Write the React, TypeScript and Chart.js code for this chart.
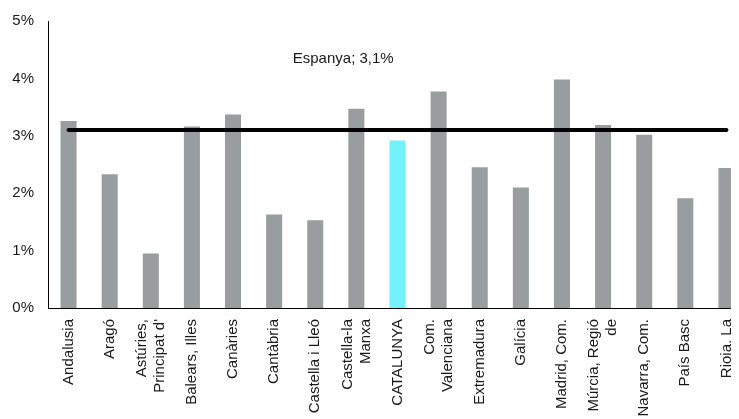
import React, { useEffect, useRef } from "react";
import { Chart, registerables } from "chart.js";

Chart.register(...registerables);

const categories: (string | string[])[] = [
  "Andalusia",
  "Aragó",
  ["Astúries,", "Principat d'"],
  "Balears, Illes",
  "Canàries",
  "Cantàbria",
  "Castella i Lleó",
  ["Castella-la", "Manxa"],
  "CATALUNYA",
  ["Com.", "Valenciana"],
  "Extremadura",
  "Galícia",
  "Madrid, Com.",
  ["Múrcia, Regió", "de"],
  "Navarra, Com.",
  "País Basc",
  "Rioja, La",
];

const regionValues = [
  3.26, 2.33, 0.95, 3.16, 3.37, 1.63, 1.53, 3.47, 2.92, 3.77, 2.45, 2.1, 3.98,
  3.19, 3.02, 1.91, 2.44,
];

const spainValue = 3.1;
const spainLabel = "Espanya; 3,1%";
const yTicks = [0, 1, 2, 3, 4, 5];

const GRAY = "#9a9d9d";
const CYAN = "#72f2fd";
const FONT = "'Liberation Sans', Arial, sans-serif";

const labelPlugin = {
  id: "spainLabel",
  afterDatasetsDraw(chart: any) {
    const { ctx, scales } = chart;
    const x = scales.x.getPixelForValue(6.68);
    const y = scales.y.getPixelForValue(4.34);
    ctx.save();
    ctx.font = `15px ${FONT}`;
    ctx.fillStyle = "#1a1a1a";
    ctx.textAlign = "center";
    ctx.textBaseline = "middle";
    ctx.fillText(spainLabel, x, y);
    ctx.restore();
  },
};

// center multi-line rotated category labels around their tick
const centerLinesPlugin = {
  id: "centerLines",
  beforeDraw(chart: any) {
    const xs = chart.scales.x;
    if (!xs || !xs.getLabelItems) return;
    const items = xs.getLabelItems();
    items.forEach((it: any) => {
      const n = Array.isArray(it.label) ? it.label.length : 1;
      if (n > 1 && !it._centered && it.options && it.options.translation) {
        const lh = it.font && it.font.lineHeight ? it.font.lineHeight : 18;
        it.options.translation[0] -= ((n - 1) * lh) / 2;
        it._centered = true;
      }
    });
  },
};

export default function App() {
  const ref = useRef<HTMLCanvasElement | null>(null);

  useEffect(() => {
    if (!ref.current) return;
    const chart = new Chart(ref.current, {
      type: "bar",
      data: {
        labels: categories,
        datasets: [
          {
            type: "line",
            data: categories.map(() => spainValue),
            borderColor: "#000",
            borderWidth: 4,
            borderCapStyle: "round",
            pointRadius: 0,
            fill: false,
            order: 0,
          } as any,
          {
            type: "bar",
            data: regionValues,
            backgroundColor: categories.map((c) =>
              c === "CATALUNYA" ? CYAN : GRAY
            ),
            barPercentage: 0.39,
            categoryPercentage: 1,
            order: 1,
          },
        ],
      },
      options: {
        animation: false,
        responsive: false,
        maintainAspectRatio: false,
        layout: { padding: 0 },
        plugins: {
          legend: { display: false },
          tooltip: { enabled: false },
        },
        scales: {
          x: {
            grid: { display: false, drawTicks: false },
            border: { display: true, color: "#000", width: 1 },
            ticks: {
              autoSkip: false,
              maxRotation: 90,
              minRotation: 90,
              padding: 11,
              color: "#1a1a1a",
              font: { family: FONT, size: 15 },
            },
            afterFit: (scale: any) => {
              scale.height = 111;
              scale.paddingLeft = 0;
              scale.paddingRight = 2;
            },
          },
          y: {
            min: 0,
            max: 5,
            grid: { display: false, drawTicks: false },
            border: { display: true, color: "#000", width: 1 },
            afterBuildTicks: (scale: any) => {
              scale.ticks = yTicks.map((v) => ({ value: v }));
            },
            ticks: {
              padding: 14,
              color: "#1a1a1a",
              font: { family: FONT, size: 15 },
              callback: (v: any) => `${v}%`,
            },
            afterFit: (scale: any) => {
              scale.width = 40;
              scale.paddingTop = 13;
              scale.paddingBottom = 0;
            },
          },
        },
      },
      plugins: [labelPlugin, centerLinesPlugin],
    });
    return () => chart.destroy();
  }, []);

  return (
    <div style={{ width: 731, height: 411, overflow: "hidden" }}>
      <canvas ref={ref} width={741} height={411} style={{ display: "block" }} />
    </div>
  );
}
